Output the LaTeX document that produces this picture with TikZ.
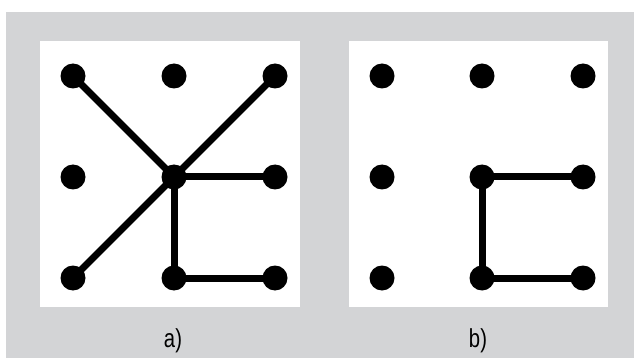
\documentclass[tikz,border=0pt]{standalone}
\usepackage{fontspec}
\setmainfont[FakeStretch=0.78]{Liberation Sans}
\definecolor{panelgray}{HTML}{D3D4D6}
\begin{document}
\begin{tikzpicture}[x=1pt,y=-1pt,
  dot/.style={circle,fill=black,inner sep=0pt,minimum size=25pt},
  link/.style={line width=7pt,black},
  caption/.style={font=\fontsize{26}{26}\selectfont,inner sep=0pt}]
  \useasboundingbox (0,0) rectangle (634,358);
  % backgrounds
  \fill[panelgray] (6,12) rectangle (634,358);
  \fill[white] (40,41) rectangle (300,307);
  \fill[white] (349,41) rectangle (608,307);
  % left grid of dots
  \foreach \c/\x in {0/73,1/174,2/275}{
    \foreach \r/\y in {0/76,1/177,2/278}{
      \node[dot] (a\c\r) at (\x,\y) {};
    }
  }
  % right grid of dots
  \foreach \c/\x in {0/382,1/482,2/583}{
    \foreach \r/\y in {0/76,1/177,2/278}{
      \node[dot] (b\c\r) at (\x,\y) {};
    }
  }
  % connectors, panel a
  \draw[link] (a00.center) -- (a11.center);
  \draw[link] (a20.center) -- (a11.center);
  \draw[link] (a02.center) -- (a11.center);
  \draw[link] (a11.center) -- (a21.center);
  \draw[link] (a11.center) -- (a12.center);
  \draw[link] (a12.center) -- (a22.center);
  % connectors, panel b
  \draw[link] (b11.center) -- (b21.center);
  \draw[link] (b11.center) -- (b12.center);
  \draw[link] (b12.center) -- (b22.center);
  % captions
  \node[caption,anchor=base] (capa) at (173,347) {a)};
  \node[caption,anchor=base] (capb) at (478,347) {b)};
\end{tikzpicture}
\end{document}
